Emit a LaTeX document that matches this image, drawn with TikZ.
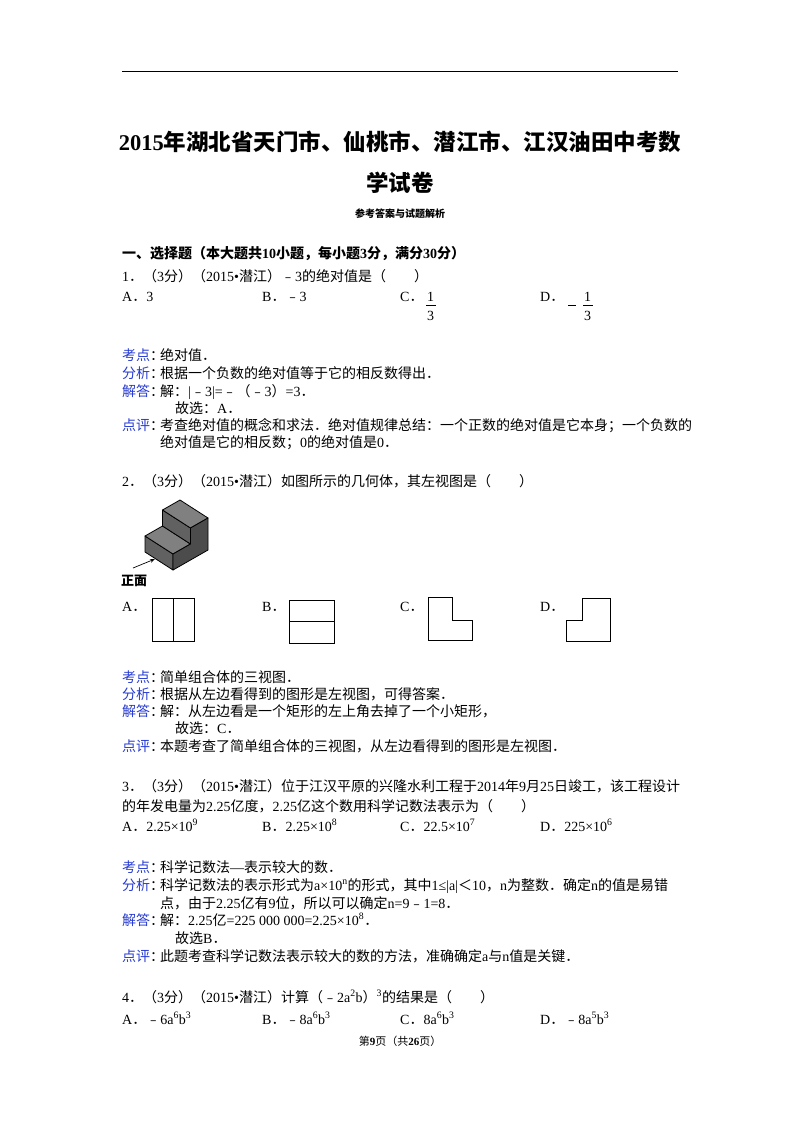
\documentclass[tikz,border=0pt]{standalone}
\usetikzlibrary{arrows.meta}
\usepackage{fontspec}
\setmainfont{Liberation Serif}
\newfontfamily\cjk{Noto Sans CJK SC}
\newcommand\latin{\rmfamily}
\newXeTeXintercharclass\cjkcl
\newcount\mycnt
\mycnt="4E00 \loop \XeTeXcharclass\mycnt=\cjkcl \advance\mycnt 1 \ifnum\mycnt<"A000 \repeat
\mycnt="3000 \loop \XeTeXcharclass\mycnt=\cjkcl \advance\mycnt 1 \ifnum\mycnt<"3040 \repeat
\mycnt="FF00 \loop \XeTeXcharclass\mycnt=\cjkcl \advance\mycnt 1 \ifnum\mycnt<"FFF0 \repeat
\mycnt="FE30 \loop \XeTeXcharclass\mycnt=\cjkcl \advance\mycnt 1 \ifnum\mycnt<"FE70 \repeat
\XeTeXinterchartoks 0 \cjkcl = {\cjk}
\XeTeXinterchartoks 4095 \cjkcl = {\cjk}
\XeTeXinterchartoks \cjkcl 0 = {\latin}
\XeTeXinterchartoks 4095 0 = {\latin}
\definecolor{lab}{RGB}{40,60,210}
\newcommand\T[3]{\node[txt] at (#1,#2) {#3};}
\newcommand\Lab[3]{\node[txt,text=lab] at (122,#1) {#2};\node[txt] at (150,#1) {：};\node[txt] at (160,#1) {#3};}
\begin{document}
\XeTeXinterchartokenstate=1
\begin{tikzpicture}[x=1pt,y=-1pt,
  txt/.style={anchor=base west,inner sep=0,font=\fontsize{14}{16}\selectfont},
  box/.style={draw,line width=0.9pt}]
\useasboundingbox (0,0) rectangle (800,1132);
\fill[white] (0,0) rectangle (800,1132);
\draw[line width=1pt] (122,72) -- (678,72);
\node[anchor=base,inner sep=0,font=\fontsize{22.5}{26}\selectfont\bfseries] at (400,150) {2015年湖北省天门市、仙桃市、潜江市、江汉油田中考数};
\node[anchor=base,inner sep=0,font=\fontsize{22.5}{26}\selectfont\bfseries] at (400,191) {学试卷};
\node[anchor=base,inner sep=0,font=\fontsize{10}{12}\selectfont\bfseries] at (400,217) {参考答案与试题解析};
\node[txt,font=\fontsize{14}{16}\selectfont\bfseries] at (122,258) {一、选择题（本大题共10小题，每小题3分，满分30分）};
% Q1
\T{122}{281}{1．（3分）（2015•潜江）﹣3的绝对值是（　　）}
\T{122}{301}{A．3}\T{262}{301}{B．﹣3}\T{400}{301}{C．}\T{540}{301}{D．}
\node[txt] at (427,301) {1};\draw (426,305)--(436,305);\node[txt] at (427,320) {3};
\draw (568,305)--(576,305);
\node[txt] at (584,301) {1};\draw (583,305)--(593,305);\node[txt] at (584,320) {3};
\Lab{360}{考点}{绝对值．}
\Lab{378}{分析}{根据一个负数的绝对值等于它的相反数得出．}
\Lab{396}{解答}{解：|﹣3|=﹣（﹣3）=3．}
\T{175}{413}{故选：A．}
\Lab{430}{点评}{考查绝对值的概念和求法．绝对值规律总结：一个正数的绝对值是它本身；一个负数的}
\T{160}{447}{绝对值是它的相反数；0的绝对值是0．}
% Q2
\T{122}{486}{2．（3分）（2015•潜江）如图所示的几何体，其左视图是（　　）}
\begin{scope}[shift={(173,570)},x={(-28pt,18pt)},y={(35pt,20pt)},z={(0pt,16pt)},line width=0.8pt,line join=round]
\filldraw[fill=black!62] (0,0,0)--(1,0,0)--(1,0,1)--(0,0,1)--cycle;
\filldraw[fill=black!50] (0,0,1)--(1,0,1)--(1,.5,1)--(0,.5,1)--cycle;
\filldraw[fill=black!62] (0,.5,1)--(1,.5,1)--(1,.5,2)--(0,.5,2)--cycle;
\filldraw[fill=black!50] (0,.5,2)--(1,.5,2)--(1,1,2)--(0,1,2)--cycle;
\filldraw[fill=black!70] (0,0,0)--(0,1,0)--(0,1,2)--(0,.5,2)--(0,.5,1)--(0,0,1)--cycle;
\end{scope}
\coordinate (arrs) at (133,568);\coordinate (arre) at (155,559);
\draw[-{Stealth[length=5pt]},line width=0.7pt] (arrs)--(arre);
\node[txt,font=\fontsize{13}{15}\selectfont\bfseries] at (121,585) {正面};
\T{122}{611}{A．}\T{262}{611}{B．}\T{400}{611}{C．}\T{540}{611}{D．}
\draw[box] (152,598) rectangle (194,641); \draw[box] (173,598)--(173,641);
\draw[box] (289,600) rectangle (334,643); \draw[box] (289,621)--(334,621);
\draw[box] (428,597)--(452,597)--(452,620)--(472,620)--(472,640)--(428,640)--cycle;
\draw[box] (582,598)--(610,598)--(610,641)--(566,641)--(566,620)--(582,620)--cycle;
\Lab{682}{考点}{简单组合体的三视图．}
\Lab{699}{分析}{根据从左边看得到的图形是左视图，可得答案．}
\Lab{716}{解答}{解：从左边看是一个矩形的左上角去掉了一个小矩形，}
\T{175}{733}{故选：C．}
\Lab{751}{点评}{本题考查了简单组合体的三视图，从左边看得到的图形是左视图．}
% Q3
\T{122}{791}{3．（3分）（2015•潜江）位于江汉平原的兴隆水利工程于2014年9月25日竣工，该工程设计}
\T{122}{811}{的年发电量为2.25亿度，2.25亿这个数用科学记数法表示为（　　）}
\T{122}{831}{A．2.25×10\textsuperscript{9}}\T{262}{831}{B．2.25×10\textsuperscript{8}}\T{400}{831}{C．22.5×10\textsuperscript{7}}\T{540}{831}{D．225×10\textsuperscript{6}}
\Lab{872}{考点}{科学记数法—表示较大的数．}
\Lab{890}{分析}{科学记数法的表示形式为a×10\textsuperscript{n}的形式，其中1≤|a|＜10，n为整数．确定n的值是易错}
\T{160}{908}{点，由于2.25亿有9位，所以可以确定n=9﹣1=8．}
\Lab{925}{解答}{解：2.25亿=225 000 000=2.25×10\textsuperscript{8}．}
\T{175}{943}{故选B．}
\Lab{961}{点评}{此题考查科学记数法表示较大的数的方法，准确确定a与n值是关键．}
% Q4
\T{122}{1002}{4．（3分）（2015•潜江）计算（﹣2a\textsuperscript{2}b）\textsuperscript{3}的结果是（　　）}
\T{122}{1024}{A．﹣6a\textsuperscript{6}b\textsuperscript{3}}\T{262}{1024}{B．﹣8a\textsuperscript{6}b\textsuperscript{3}}\T{400}{1024}{C．8a\textsuperscript{6}b\textsuperscript{3}}\T{540}{1024}{D．﹣8a\textsuperscript{5}b\textsuperscript{3}}
\node[anchor=base,inner sep=0,font=\fontsize{11}{13}\selectfont] at (400,1045) {第\textbf{9}页（共\textbf{26}页）};
\end{tikzpicture}
\end{document}
